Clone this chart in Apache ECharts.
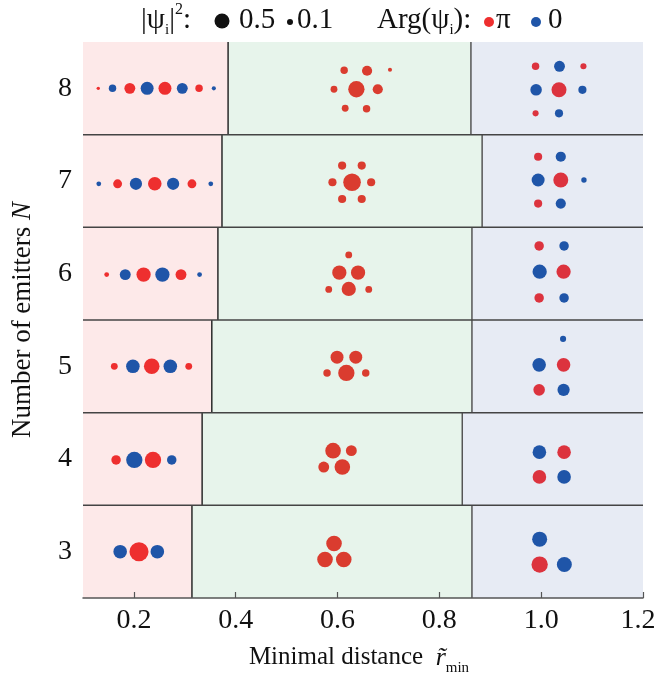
<!DOCTYPE html>
<html><head><meta charset="utf-8">
<script src="https://cdn.jsdelivr.net/npm/echarts@6/dist/echarts.min.js"></script>
<style>html,body{margin:0;padding:0;background:#fff}#c{width:655px;height:673px}</style>
</head><body><div id="c"></div>
<script>
// ---- data ----
const rowsN = [3, 4, 5, 6, 7, 8];
const boundLeft = [0.314, 0.334, 0.353, 0.365, 0.373, 0.385];
const boundRight = [0.864, 0.845, 0.864, 0.864, 0.884, 0.862];
const xTicks = [0.2, 0.4, 0.6, 0.8, 1.0, 1.2];
const yTicks = [3, 4, 5, 6, 7, 8];
// [N, x, dy (row units), |psi|^2, arg (1 = pi, 0 = 0)]
const chainDots = [
  [8,0.130,0,0.016,1],[8,0.158,0,0.076,0],[8,0.192,0,0.163,1],[8,0.226,0,0.230,0],
  [8,0.261,0,0.230,1],[8,0.295,0,0.163,0],[8,0.328,0,0.076,1],[8,0.357,0,0.023,0],
  [7,0.131,-0.03,0.031,0],[7,0.168,-0.03,0.108,1],[7,0.204,-0.03,0.205,0],[7,0.241,-0.03,0.252,1],
  [7,0.277,-0.03,0.205,0],[7,0.314,-0.03,0.108,1],[7,0.351,-0.03,0.031,0],
  [6,0.1465,-0.01,0.031,1],[6,0.183,-0.01,0.163,0],[6,0.219,-0.01,0.279,1],[6,0.256,-0.01,0.279,0],
  [6,0.2925,-0.01,0.163,1],[6,0.329,-0.01,0.031,0],
  [5,0.1615,0,0.064,1],[5,0.198,0,0.252,0],[5,0.235,0,0.333,1],[5,0.2715,0,0.252,0],[5,0.3077,0,0.064,1],
  [4,0.165,-0.01,0.123,1],[4,0.2008,-0.01,0.365,0],[4,0.2375,-0.01,0.365,1],[4,0.2743,-0.01,0.123,0],
  [3,0.173,0,0.252,0],[3,0.210,0,0.498,1],[3,0.246,0,0.252,0]
];
const clusterDots = [
  [8,0.613,0.195,0.076,1],[8,0.658,0.19,0.142,1],[8,0.703,0.20,0.023,1],[8,0.593,-0.01,0.064,1],
  [8,0.637,-0.01,0.365,1],[8,0.679,-0.01,0.142,1],[8,0.615,-0.215,0.064,1],[8,0.657,-0.22,0.076,1],
  [7,0.609,0.166,0.091,1],[7,0.6475,0.166,0.091,1],[7,0.590,-0.013,0.091,1],[7,0.6285,-0.013,0.426,1],
  [7,0.666,-0.013,0.091,1],[7,0.609,-0.194,0.091,1],[7,0.6475,-0.194,0.091,1],
  [6,0.622,0.202,0.064,1],[6,0.6035,0.011,0.279,1],[6,0.6403,0.011,0.279,1],[6,0.5827,-0.17,0.064,1],
  [6,0.622,-0.165,0.279,1],[6,0.6613,-0.17,0.064,1],
  [5,0.599,0.099,0.230,1],[5,0.6358,0.099,0.230,1],[5,0.5794,-0.071,0.076,1],[5,0.6173,-0.071,0.365,1],
  [5,0.6554,-0.071,0.076,1],
  [4,0.5912,0.09,0.333,1],[4,0.6271,0.09,0.163,1],[4,0.5729,-0.087,0.163,1],[4,0.6094,-0.087,0.333,1],
  [3,0.5931,0.088,0.333,1],[3,0.5754,-0.085,0.333,1],[3,0.6122,-0.085,0.333,1]
];
const gridDots = [
  [8,0.989,0.238,0.076,1],[8,1.036,0.238,0.163,0],[8,1.083,0.238,0.051,1],[8,0.990,-0.016,0.182,0],
  [8,1.035,-0.016,0.308,1],[8,1.081,-0.016,0.091,0],[8,0.989,-0.27,0.051,1],[8,1.035,-0.27,0.091,0],
  [7,0.994,0.262,0.091,1],[7,1.0385,0.262,0.142,0],[7,0.994,0.011,0.230,0],[7,1.0385,0.011,0.308,1],
  [7,1.084,0.011,0.040,0],[7,0.994,-0.244,0.091,1],[7,1.0385,-0.244,0.142,0],
  [6,0.996,0.299,0.123,1],[6,1.045,0.299,0.123,0],[6,0.997,0.021,0.279,0],[6,1.044,0.021,0.279,1],
  [6,0.996,-0.262,0.123,1],[6,1.045,-0.262,0.123,0],
  [5,1.043,0.296,0.051,0],[5,0.996,0.016,0.252,0],[5,1.044,0.016,0.252,1],[5,0.996,-0.254,0.182,1],
  [5,1.044,-0.254,0.205,0],
  [4,0.9965,0.074,0.252,0],[4,1.045,0.074,0.252,1],[4,0.9965,-0.193,0.252,1],[4,1.045,-0.193,0.252,0],
  [3,0.997,0.135,0.308,0],[3,0.997,-0.139,0.365,1],[3,1.0455,-0.139,0.308,0]
];

// ---- styles ----
const K = 27;
const FONT = 'Liberation Serif';
const BLUE = '#1f55a8';
const PINK = '#fde9e9', GREEN = '#e7f4eb', BLUEBG = '#e7ebf4';
const LEG = 29;
const botRow = Math.min(...rowsN);
const lastTick = Math.max(...xTicks);

function dotSeries(dots, red) {
  return {
    type: 'scatter', z: 5, silent: true, animation: false,
    data: dots.map(d => [d[1], d[0] + d[2], d[3], d[4]]),
    symbolSize: v => K * Math.sqrt(v[2]),
    itemStyle: { color: p => p.value[3] ? red : BLUE, opacity: 1 },
    emphasis: { disabled: true }
  };
}

const chart = echarts.init(document.getElementById('c'), null, { renderer: 'canvas' });
chart.setOption({
  animation: false,
  grid: { left: 83, right: 12, top: 42, bottom: 75, containLabel: false, outerBoundsMode: 'none' },
  xAxis: {
    type: 'value', min: 0.1, max: 1.2, z: 10,
    splitLine: { show: false },
    axisLine: { show: true, onZero: false, lineStyle: { color: '#555', width: 1.5 } },
    axisTick: { show: true, inside: true, length: 6, customValues: xTicks, lineStyle: { color: '#555', width: 1.2 } },
    axisLabel: {
      customValues: xTicks,
      formatter: v => Math.abs(v - lastTick) < 1e-9 ? '{last|' + v.toFixed(1) + '}' : v.toFixed(1),
      fontFamily: FONT, fontSize: 28, color: '#111', margin: 9,
      rich: { last: { fontFamily: FONT, fontSize: 28, color: '#111', padding: [0, 10, 0, 0] } }
    },
    name: 'Minimal distance  {it|r\u0303}{sub|min}',
    nameLocation: 'middle', nameGap: 52,
    nameTextStyle: {
      fontFamily: FONT, fontSize: 25, color: '#111', lineHeight: 36, verticalAlign: 'middle',
      padding: [0, 8, 0, 0],
      rich: {
        it: { fontFamily: FONT, fontStyle: 'italic', fontSize: 26, color: '#111', lineHeight: 36 },
        sub: { fontFamily: FONT, fontSize: 15, color: '#111', lineHeight: 15, verticalAlign: 'bottom' }
      }
    }
  },
  yAxis: {
    type: 'value', min: 2.5, max: 8.5,
    splitLine: { show: false }, axisLine: { show: false }, axisTick: { show: false },
    axisLabel: { customValues: yTicks, fontFamily: FONT, fontSize: 28, color: '#111', margin: 11 },
    name: 'Number of emitters {it|N}', nameLocation: 'middle', nameRotate: 90, nameGap: 47,
    nameTextStyle: {
      fontFamily: FONT, fontSize: 27, color: '#111',
      rich: { it: { fontFamily: FONT, fontStyle: 'italic', fontSize: 27, color: '#111' } }
    }
  },
  graphic: [
    { type: 'text', x: 141, y: 20, silent: true, style: {
      text: '|\u03c8{sub|i}|{sup|2}:', fontFamily: FONT, fontSize: LEG, fill: '#111', verticalAlign: 'middle',
      lineHeight: 36,
      rich: {
        sub: { fontFamily: FONT, fontSize: 15, fill: '#111', lineHeight: 15, verticalAlign: 'bottom' },
        sup: { fontFamily: FONT, fontSize: 16, fill: '#111', lineHeight: 16, verticalAlign: 'top' }
      } } },
    { type: 'circle', silent: true, shape: { cx: 222, cy: 21, r: 7.5 }, style: { fill: '#111' } },
    { type: 'text', x: 239, y: 20, silent: true, style: { text: '0.5', fontFamily: FONT, fontSize: LEG, fill: '#111', verticalAlign: 'middle' } },
    { type: 'circle', silent: true, shape: { cx: 290, cy: 22, r: 3 }, style: { fill: '#111' } },
    { type: 'text', x: 297, y: 20, silent: true, style: { text: '0.1', fontFamily: FONT, fontSize: LEG, fill: '#111', verticalAlign: 'middle' } },
    { type: 'text', x: 377, y: 20, silent: true, style: {
      text: 'Arg(\u03c8{sub|i}):', fontFamily: FONT, fontSize: LEG, fill: '#111', verticalAlign: 'middle',
      lineHeight: 36,
      rich: { sub: { fontFamily: FONT, fontSize: 15, fill: '#111', lineHeight: 15, verticalAlign: 'bottom' } } } },
    { type: 'circle', silent: true, shape: { cx: 489, cy: 22, r: 5 }, style: { fill: '#ee2f2f' } },
    { type: 'text', x: 496, y: 20, silent: true, style: { text: '\u03c0', fontFamily: FONT, fontSize: LEG, fill: '#111', verticalAlign: 'middle' } },
    { type: 'circle', silent: true, shape: { cx: 536, cy: 22, r: 5 }, style: { fill: BLUE } },
    { type: 'text', x: 548, y: 20, silent: true, style: { text: '0', fontFamily: FONT, fontSize: LEG, fill: '#111', verticalAlign: 'middle' } }
  ],
  series: [
    {
      type: 'custom', z: 1, silent: true, animation: false, clip: false,
      data: rowsN.map((n, i) => [n, boundLeft[i], boundRight[i]]),
      encode: { x: [1, 2], y: 0 },
      renderItem: (params, api) => {
        const n = api.value(0), b1 = api.value(1), b2 = api.value(2);
        const cs = params.coordSys;
        const top = api.coord([b1, n + 0.5])[1];
        const bot = api.coord([b1, n - 0.5])[1];
        const x1 = api.coord([b1, n])[0], x2 = api.coord([b2, n])[0];
        const L = cs.x, R = cs.x + cs.width;
        const ch = [
          { type: 'rect', shape: { x: L, y: top, width: x1 - L, height: bot - top }, style: { fill: PINK } },
          { type: 'rect', shape: { x: x1, y: top, width: x2 - x1, height: bot - top }, style: { fill: GREEN } },
          { type: 'rect', shape: { x: x2, y: top, width: R - x2, height: bot - top }, style: { fill: BLUEBG } },
          { type: 'line', shape: { x1: x1, y1: top, x2: x1, y2: bot }, style: { stroke: '#2a2a2a', lineWidth: 1.5 } },
          { type: 'line', shape: { x1: x2, y1: top, x2: x2, y2: bot }, style: { stroke: '#555', lineWidth: 1.5 } }
        ];
        if (n > botRow) ch.push({ type: 'line', shape: { x1: L, y1: bot, x2: R, y2: bot }, style: { stroke: '#444', lineWidth: 1.5 } });
        return { type: 'group', children: ch };
      }
    },
    dotSeries(chainDots, '#ee2f2f'),
    dotSeries(clusterDots, '#da3c2f'),
    dotSeries(gridDots, '#dc333e')
  ]
});
</script>
</body></html>
